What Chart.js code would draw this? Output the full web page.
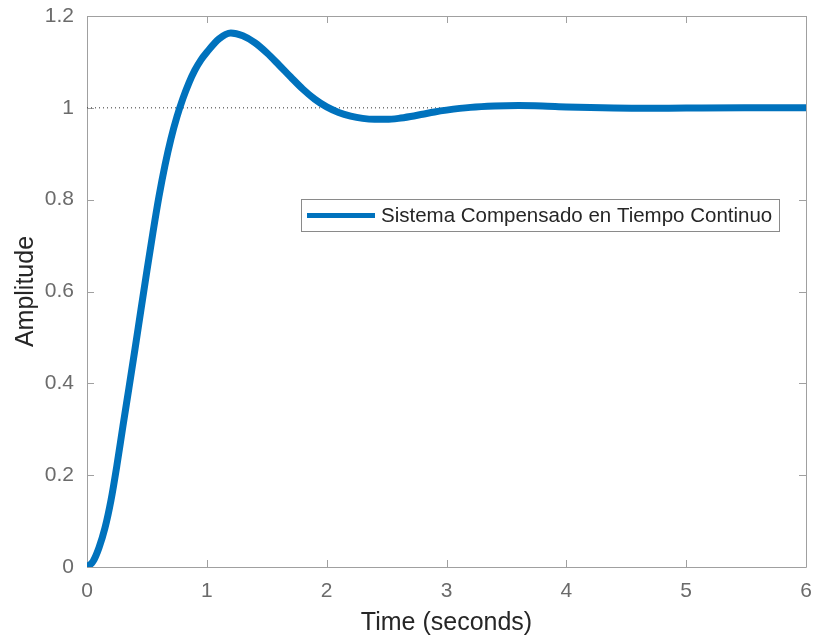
<!DOCTYPE html>
<html>
<head>
<meta charset="utf-8">
<script src="https://cdn.jsdelivr.net/npm/chart.js@4/dist/chart.umd.min.js"></script>
<style>
  html, body { margin: 0; padding: 0; background: #ffffff; }
  #wrap { width: 814px; height: 640px; }
</style>
</head>
<body>
<div id="wrap"><canvas id="c" width="814" height="640"></canvas></div>
<script>
// ---- data ----
const timeValues = [0, 0.05, 0.1, 0.15, 0.2, 0.25, 0.3, 0.35, 0.4, 0.45, 0.5, 0.55, 0.6, 0.65, 0.7, 0.75, 0.8, 0.85, 0.9, 0.95, 1.0,
  1.1, 1.2, 1.3, 1.4, 1.5, 1.6, 1.7, 1.8, 1.9, 2.0, 2.1, 2.2, 2.3, 2.4, 2.5, 2.6, 2.7, 2.8, 2.9, 3.0,
  3.2, 3.4, 3.6, 3.8, 4.0, 4.3, 4.6, 5.0, 5.5, 6.0];
const amplitudeValues = [0, 0.012, 0.042, 0.085, 0.145, 0.222, 0.307, 0.39, 0.474, 0.560, 0.645, 0.728, 0.806, 0.874, 0.932, 0.980, 1.020, 1.054, 1.082, 1.104, 1.121,
  1.150, 1.163, 1.157, 1.142, 1.120, 1.094, 1.067, 1.041, 1.019, 1.002, 0.990, 0.982, 0.977, 0.975, 0.975, 0.977, 0.981, 0.986, 0.991, 0.995,
  1.001, 1.004, 1.005, 1.004, 1.002, 1.0, 0.999, 0.9995, 1.0, 1.0];
const finalValue = 1;
const xTickValues = [0, 1, 2, 3, 4, 5, 6];
const yTickValues = [0, 0.2, 0.4, 0.6, 0.8, 1.0, 1.2];
const seriesLabel = 'Sistema Compensado en Tiempo Continuo';
const xTitle = 'Time (seconds)';
const yTitle = 'Amplitude';

const FONT = "'Liberation Sans', Arial, Helvetica, sans-serif";
const LINE_COLOR = '#0072BD';
const AXIS_COLOR = '#a0a0a0';

const stepPoints = timeValues.map((t, i) => ({ x: t, y: amplitudeValues[i] }));
const finalPoints = [{ x: xTickValues[0], y: finalValue }, { x: xTickValues[xTickValues.length - 1], y: finalValue }];

const framePlugin = {
  id: 'frame',
  beforeDatasetsDraw(chart) {
    const { ctx, chartArea: a, scales: { x, y } } = chart;
    ctx.save();
    ctx.strokeStyle = AXIS_COLOR;
    ctx.lineWidth = 1;
    ctx.beginPath();
    ctx.rect(Math.round(a.left) + 0.5, Math.round(a.top) + 0.5, Math.round(a.right - a.left), Math.round(a.bottom - a.top));
    const tl = 7;
    xTickValues.forEach(v => {
      const px = Math.round(x.getPixelForValue(v)) + 0.5;
      ctx.moveTo(px, a.bottom); ctx.lineTo(px, a.bottom - tl);
      ctx.moveTo(px, a.top); ctx.lineTo(px, a.top + tl);
    });
    yTickValues.forEach(v => {
      const py = Math.round(y.getPixelForValue(v)) + 0.5;
      ctx.moveTo(a.left, py); ctx.lineTo(a.left + tl, py);
      ctx.moveTo(a.right, py); ctx.lineTo(a.right - tl, py);
    });
    ctx.stroke();
    ctx.restore();
  },
  afterDatasetsDraw(chart) {
    const { ctx } = chart;
    // legend box, placed inside the axes
    const bx = 301, by = 199, bw = 478, bh = 32;
    ctx.save();
    ctx.fillStyle = '#ffffff';
    ctx.fillRect(bx, by, bw, bh);
    ctx.strokeStyle = '#8a8a8a';
    ctx.lineWidth = 1;
    ctx.strokeRect(bx + 0.5, by + 0.5, bw, bh);
    ctx.strokeStyle = LINE_COLOR;
    ctx.lineWidth = 5;
    ctx.beginPath();
    ctx.moveTo(307, by + 16.5);
    ctx.lineTo(375, by + 16.5);
    ctx.stroke();
    ctx.fillStyle = '#262626';
    ctx.font = '20.5px ' + FONT;
    ctx.textBaseline = 'middle';
    ctx.textAlign = 'left';
    ctx.fillText(chart.data.datasets[0].label, 381, by + 17);
    ctx.restore();
  }
};

new Chart(document.getElementById('c'), {
  type: 'line',
  data: {
    datasets: [
      {
        label: seriesLabel,
        data: stepPoints,
        borderColor: LINE_COLOR,
        backgroundColor: LINE_COLOR,
        borderWidth: 7,
        pointRadius: 0,
        cubicInterpolationMode: 'monotone',
        fill: false,
        order: 1
      },
      {
        label: 'final value',
        data: finalPoints,
        borderColor: '#333333',
        borderWidth: 1,
        borderDash: [1, 3],
        pointRadius: 0,
        fill: false,
        order: 2
      }
    ]
  },
  options: {
    responsive: false,
    animation: false,
    devicePixelRatio: 1,
    layout: { padding: { left: 0, right: 8, top: 16, bottom: 0 } },
    plugins: {
      legend: { display: false },
      tooltip: { enabled: false },
      title: { display: false }
    },
    scales: {
      x: {
        type: 'linear',
        min: 0, max: 6,
        afterBuildTicks: s => { s.ticks = xTickValues.map(v => ({ value: v })); },
        afterFit: s => { s.height = 73; s.paddingLeft = 0; s.paddingRight = 0; },
        grid: { display: false, drawTicks: false },
        border: { display: false },
        ticks: {
          color: '#6b6b6b',
          font: { family: FONT, size: 21 },
          padding: 12,
          maxRotation: 0,
          callback: v => String(v)
        },
        title: {
          display: true,
          text: xTitle,
          color: '#262626',
          font: { family: FONT, size: 25 },
          padding: { top: 0, bottom: 2 }
        }
      },
      y: {
        type: 'linear',
        min: 0, max: 1.2,
        afterBuildTicks: s => { s.ticks = yTickValues.map(v => ({ value: v })); },
        afterFit: s => { s.width = 87; s.paddingTop = 0; s.paddingBottom = 0; },
        grid: { display: false, drawTicks: false },
        border: { display: false },
        ticks: {
          color: '#6b6b6b',
          font: { family: FONT, size: 21 },
          padding: 13,
          callback: v => String(Math.round(v * 10) / 10)
        },
        title: {
          display: true,
          text: yTitle,
          color: '#262626',
          font: { family: FONT, size: 25 },
          padding: { top: 11, bottom: 0 }
        }
      }
    }
  },
  plugins: [framePlugin]
});
</script>
</body>
</html>
